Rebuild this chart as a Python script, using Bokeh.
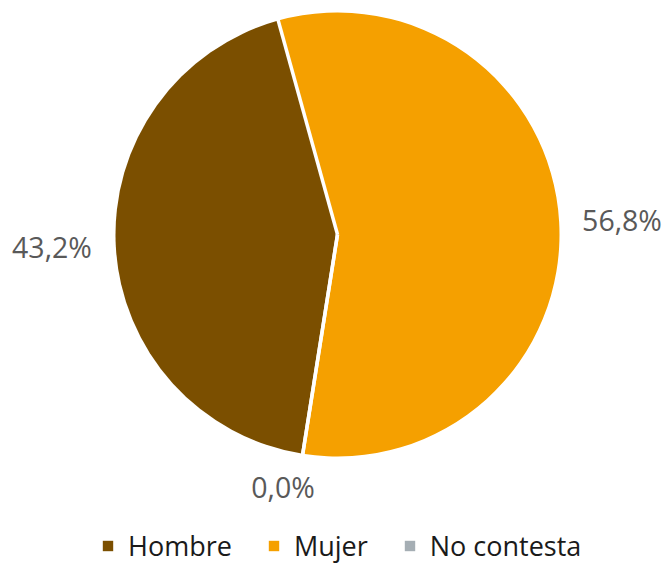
import numpy as np
from bokeh.plotting import figure
from bokeh.models import (Range1d, ColumnDataSource, Legend, LegendItem,
                          CDSView, BooleanFilter)
from bokeh.core.properties import value
from bokeh.embed import file_html
from bokeh.resources import INLINE

# ---- data ----
categories = ["Hombre", "Mujer", "No contesta"]
shares = [43.2, 56.8, 0.0]
pct_labels = ["43,2%", "56,8%", "0,0%"]
colors = ["#7B4F00", "#F5A000", "#A5AEB4"]

# ---- layout (reference pixel space, y up) ----
W, H = 665, 564
cx, cy, R = 337, 330, 222
start_deg = 189  # first slice starts at this angle, clockwise from north
gap = 24

frac = np.array(shares) / 100.0
cum = np.concatenate([[0.0], np.cumsum(frac)])
ang = np.radians(90 - start_deg) - 2 * np.pi * cum
start_angles = ang[:-1]
end_angles = ang[1:]

src = ColumnDataSource(dict(
    cat=categories, start=start_angles, end=end_angles, color=colors,
    x=[cx] * 3, y=[cy] * 3,
))

p = figure(width=W, height=H, output_backend="svg", toolbar_location=None,
           x_range=Range1d(0, W), y_range=Range1d(0, H), min_border=0)
p.axis.visible = False
p.grid.visible = False
p.outline_line_color = None
p.background_fill_color = "white"

view = CDSView(filter=BooleanFilter([v > 0 for v in shares]))
wedges = p.wedge(x="x", y="y", radius=R, start_angle="start", end_angle="end",
                 direction="clock", fill_color="color", line_color=None,
                 source=src, view=view)
# zero-radius twin used only for the legend swatches (all categories)
legend_r = p.wedge(x="x", y="y", radius=0, start_angle="start", end_angle="end",
                   direction="clock", fill_color="color", line_color=None,
                   source=src)

# separators between slices
sep = ColumnDataSource(dict(
    x0=[cx] * 3, y0=[cy] * 3,
    x1=cx + (R + 3) * np.cos(start_angles),
    y1=cy + (R + 3) * np.sin(start_angles),
))
p.segment(x0="x0", y0="y0", x1="x1", y1="y1", line_color="white",
          line_width=3.5, source=sep)

# data labels
mid = (start_angles + end_angles) / 2
c, s = np.cos(mid), np.sin(mid)
lx = cx + (R + gap) * c
ly = cy + (R + gap) * s
align = ["right" if v < -0.3 else ("left" if v > 0.3 else "center") for v in c]
base = ["top" if v < -0.3 else ("bottom" if v > 0.3 else "middle") for v in s]
xoff = [0, -1, -16]
yoff = [-1, -1, -9]
lab = ColumnDataSource(dict(x=lx, y=ly, t=pct_labels, a=align, b=base,
                            xo=xoff, yo=yoff))
p.text(x="x", y="y", text="t", text_align="a", text_baseline="b",
       x_offset="xo", y_offset="yo",
       text_font=value("Open Sans"), text_font_size="28.5px",
       text_color="#595959", source=lab)

legend = Legend(
    items=[LegendItem(label=cat, renderers=[legend_r], index=i)
           for i, cat in enumerate(categories)],
    orientation="horizontal", location=(101, 0),
    label_text_font="Open Sans", label_text_font_size="27px",
    label_text_color="#1a1a1a", glyph_width=13, glyph_height=13,
    label_standoff=14, spacing=35, padding=0, margin=0,
    border_line_color=None, background_fill_alpha=0,
)
p.add_layout(legend, "center")

open("out.html", "w").write(file_html(p, INLINE))
